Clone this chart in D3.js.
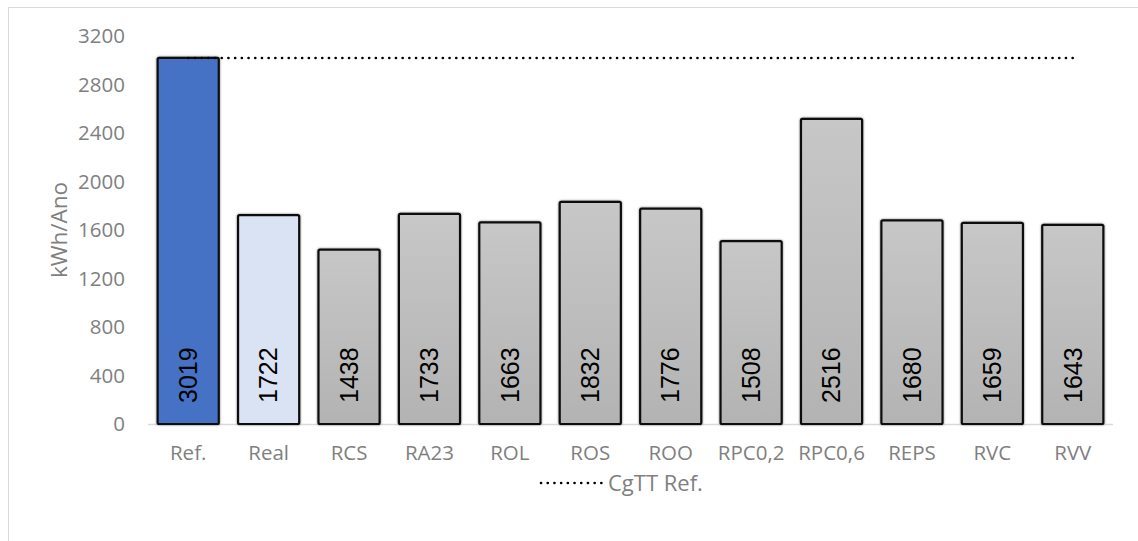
<!DOCTYPE html>
<html><head><meta charset="utf-8">
<script src="https://cdn.jsdelivr.net/npm/d3@7"></script>
<style>
html,body{margin:0;padding:0;background:#fff;}
svg{display:block;}
</style>
</head><body>
<script>
const categories = ["Ref.","Real","RCS","RA23","ROL","ROS","ROO","RPC0,2","RPC0,6","REPS","RVC","RVV"];
const values = [3019,1722,1438,1733,1663,1832,1776,1508,2516,1680,1659,1643];
const refLine = [3019,3019,3019,3019,3019,3019,3019,3019,3019,3019,3019,3019];
const yTicks = [0,400,800,1200,1600,2000,2400,2800,3200];
const legendLabel = "CgTT Ref.";
const yTitle = "kWh/Ano";

const W = 1138, H = 541;
const svg = d3.select("body").append("svg").attr("width", W).attr("height", H);
const defs = svg.append("defs");
const grad = defs.append("linearGradient").attr("id","gg").attr("x1",0).attr("y1",0).attr("x2",0).attr("y2",1);
grad.append("stop").attr("offset","0%").attr("stop-color","#c7c7c7");
grad.append("stop").attr("offset","100%").attr("stop-color","#b3b3b3");
const f = defs.append("filter").attr("id","sh").attr("x","-20%").attr("y","-20%").attr("width","140%").attr("height","140%");
f.append("feDropShadow").attr("dx",0).attr("dy",0).attr("stdDeviation",1.2).attr("flood-color","#000").attr("flood-opacity",0.55);

// chart border
svg.append("rect").attr("x",8.5).attr("y",7.5).attr("width",W+20).attr("height",H+20)
  .attr("fill","none").attr("stroke","#d9d9d9").attr("stroke-width",1);

const x = d3.scaleBand().domain(categories).range([148,1113]).paddingInner(0.24).paddingOuter(0.12);
const y = d3.scaleLinear().domain([0,3200]).range([424,36]);

const font = "'Open Sans', sans-serif";
const gray = "#7f7f7f";
const fs = 20.5;

// y ticks
svg.append("g").selectAll("text").data(yTicks).join("text")
  .attr("x",125).attr("y",d=>y(d)).attr("dy","0.35em")
  .attr("text-anchor","end").attr("font-family",font).attr("font-size",fs).attr("fill",gray)
  .text(d=>d);

// y title
svg.append("text").attr("transform",`translate(67,${y(1600)}) rotate(-90)`)
  .attr("text-anchor","middle").attr("font-family",font).attr("font-size",22.5).attr("fill",gray)
  .text(yTitle);

// axis line
svg.append("line").attr("x1",148).attr("x2",1113).attr("y1",y(0)+0.5).attr("y2",y(0)+0.5)
  .attr("stroke","#d9d9d9").attr("stroke-width",1.5);

const fills = (d,i)=> i===0 ? "#4472c4" : (i===1 ? "#dae3f3" : "url(#gg)");

svg.append("g").selectAll("rect").data(values).join("rect")
  .attr("x",(d,i)=>x(categories[i])).attr("width",x.bandwidth())
  .attr("y",d=>y(d)).attr("height",d=>y(0)-y(d))
  .attr("rx",1.5)
  .attr("fill",fills).attr("stroke","#111").attr("stroke-width",2.2)
  .attr("filter","url(#sh)");

// data labels
svg.append("g").selectAll("text").data(values).join("text")
  .attr("transform",(d,i)=>`translate(${x(categories[i])+x.bandwidth()/2},${y(0)-21}) rotate(-90)`)
  .attr("dy","0.35em").attr("text-anchor","start")
  .attr("font-family","'Liberation Sans', Arial, sans-serif").attr("font-size",25).attr("fill","#000")
  .text(d=>d);

// x labels
svg.append("g").selectAll("text").data(categories).join("text")
  .attr("x",d=>x(d)+x.bandwidth()/2).attr("y",452.5).attr("dy","0.35em")
  .attr("text-anchor","middle").attr("font-family",font).attr("font-size",fs).attr("fill",gray)
  .text(d=>d);

// reference line
const line = d3.line().x((d,i)=>x(categories[i])+x.bandwidth()/2).y(d=>y(d));
svg.append("path").datum(refLine).attr("d",line).attr("fill","none")
  .attr("stroke","#000").attr("stroke-width",2.6).attr("stroke-linecap","round")
  .attr("stroke-dasharray","0.1 6.6");

// legend
svg.append("line").attr("x1",541).attr("x2",602).attr("y1",483).attr("y2",483)
  .attr("stroke","#000").attr("stroke-width",2.6).attr("stroke-linecap","round")
  .attr("stroke-dasharray","0.1 6.6");
svg.append("text").attr("x",608).attr("y",483).attr("dy","0.35em")
  .attr("font-family",font).attr("font-size",22).attr("fill",gray).text(legendLabel);
</script>
</body></html>
